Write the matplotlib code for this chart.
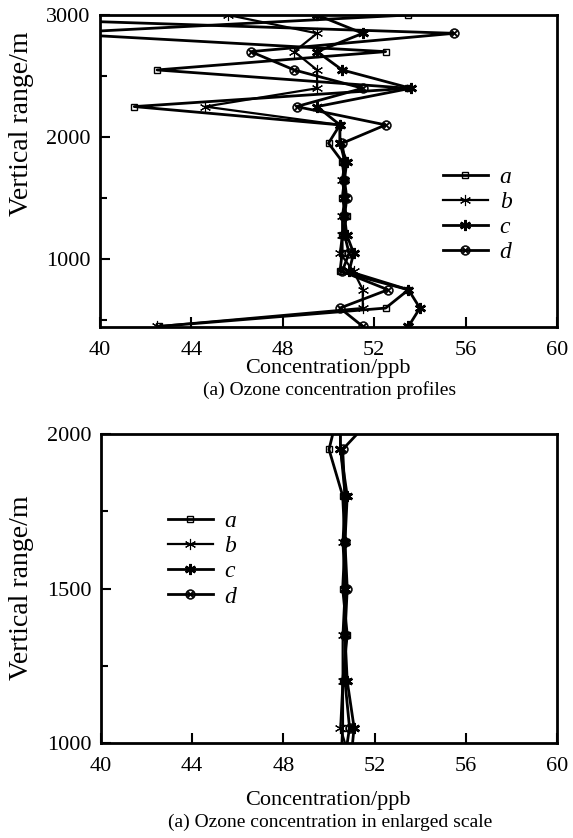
import numpy as np
import matplotlib
matplotlib.use('Agg')
import matplotlib.pyplot as plt

plt.rcParams['font.family'] = ['Liberation Serif', 'DejaVu Serif']

# heights (m) and ozone concentrations (ppb) for four cases
heights = [450, 600, 750, 900, 1050, 1200, 1350, 1500, 1650,
           1800, 1950, 2100, 2250, 2400, 2550, 2700, 2850, 3000]
conc_a = [42.6, 52.5, 53.5, 50.5, 50.6, 50.6, 50.8, 50.6, 50.7,
          50.6, 50.0, 50.5, 41.5, 53.5, 42.5, 52.5, 38.0, 53.5]
conc_b = [42.5, 51.5, 51.5, 51.1, 50.5, 50.6, 50.6, 50.7, 50.6,
          50.7, 50.5, 50.5, 44.6, 49.5, 49.5, 48.5, 49.5, 45.6]
conc_c = [53.5, 54.0, 53.5, 50.9, 51.1, 50.8, 50.7, 50.7, 50.7,
          50.8, 50.5, 50.5, 49.5, 53.6, 50.6, 49.5, 51.5, 49.5]
conc_d = [51.5, 50.5, 52.6, 50.6, 50.9, 50.7, 50.7, 50.8, 50.7,
          50.7, 50.6, 52.5, 48.6, 51.5, 48.5, 46.6, 55.5, 31.0]
labels = ['a', 'b', 'c', 'd']

styles = [
    dict(marker='s', ms=5, mew=1.0, mfc='none', lw=2.0),
    dict(marker=(6, 2, 0), ms=8, mew=0.8, lw=1.6),
    dict(marker=(6, 2, 0), ms=8, mew=1.8, lw=2.0),
    dict(marker='$\\otimes$', ms=7, mew=0.4, lw=2.0),
]


def draw_panel(ax, ylim, yticks, yminor, leg_anchor):
    for vals, lab, st in zip([conc_a, conc_b, conc_c, conc_d], labels, styles):
        ax.plot(vals, heights, color='black', mec='black', label=lab,
                clip_on=True, **st)
    ax.set_xlim(40, 60)
    ax.set_ylim(*ylim)
    ax.set_xticks([40, 44, 48, 52, 56, 60])
    ax.set_yticks(yticks)
    ax.set_yticks(yminor, minor=True)
    ax.tick_params(which='both', direction='in', labelsize=16,
                   top=False, right=False, width=1.5)
    ax.tick_params(which='major', length=7)
    ax.tick_params(axis='x', pad=10)
    ax.tick_params(axis='y', pad=7)
    ax.tick_params(which='minor', length=5)
    for sp in ax.spines.values():
        sp.set_linewidth(2.0)
    leg = ax.legend(loc='center left', bbox_to_anchor=leg_anchor, frameon=False,
                    prop={'style': 'italic', 'size': 17}, handlelength=1.9,
                    handletextpad=0.5, labelspacing=0.15)
    return leg


fig = plt.figure(figsize=(5.73, 8.38), dpi=100)

ax1 = fig.add_axes([100 / 573, 1 - 327 / 838, 457 / 573, 312 / 838])
draw_panel(ax1, (445, 3000), [1000, 2000, 3000], [500, 1500, 2500], (0.704, 0.36))

ax2 = fig.add_axes([101 / 573, 1 - 743 / 838, 456 / 573, 309 / 838])
draw_panel(ax2, (1000, 2000), [1000, 1500, 2000], [1250, 1750], (0.10, 0.595))

fig.text(328 / 573, 1 - 368 / 838, 'Concentration/ppb', ha='center', va='center', fontsize=16)
fig.text(330 / 573, 1 - 390 / 838, '(a) Ozone concentration profiles',
         ha='center', va='center', fontsize=14)
fig.text(328 / 573, 1 - 800 / 838, 'Concentration/ppb', ha='center', va='center', fontsize=16)
fig.text(330 / 573, 1 - 822 / 838, '(a) Ozone concentration in enlarged scale',
         ha='center', va='center', fontsize=14)
fig.text(22 / 573, 1 - 124 / 838, 'Vertical range/m', rotation=90,
         ha='center', va='center', fontsize=20)
fig.text(22 / 573, 1 - 588 / 838, 'Vertical range/m', rotation=90,
         ha='center', va='center', fontsize=20)

fig.savefig('out.png', dpi=100, facecolor='white')
